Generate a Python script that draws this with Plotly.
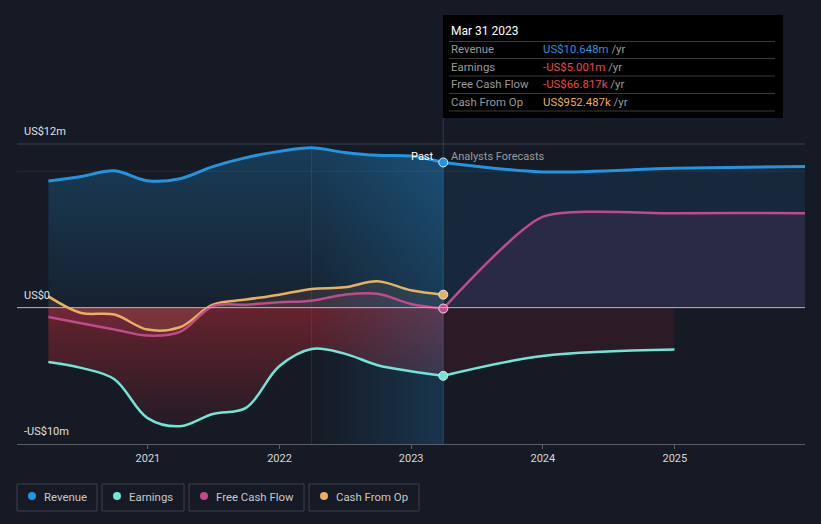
import plotly.graph_objects as go

# ---------------- data (US$ millions) ----------------
past_dates = ["2020-03-31", "2020-06-30", "2020-09-30", "2020-12-31", "2021-03-31",
              "2021-06-30", "2021-09-30", "2021-12-31", "2022-03-31", "2022-06-30",
              "2022-09-30", "2022-12-31", "2023-03-31"]
revenue_past = [9.29, 9.62, 10.04, 9.30, 9.45, 10.34, 11.0, 11.46, 11.72, 11.38, 11.17, 11.12, 10.648]
earnings_past = [-3.98, -4.42, -5.25, -8.1, -8.7, -7.8, -7.35, -4.3, -3.03, -3.37, -4.22, -4.66, -5.001]
fcf_past = [-0.68, -1.15, -1.6, -2.05, -1.78, 0.1, 0.22, 0.39, 0.51, 0.95, 1.02, 0.27, -0.0668]
cfo_past = [0.83, -0.39, -0.51, -1.61, -1.44, 0.22, 0.59, 0.95, 1.37, 1.49, 1.93, 1.27, 0.952]

fc_dates = ["2023-03-31", "2023-12-31", "2024-12-31", "2025-12-31"]
revenue_fc = [10.648, 9.95, 10.22, 10.36]
fcf_fc = [-0.0668, 6.65, 6.92, 6.93]
earn_fc_dates = ["2023-03-31", "2023-12-31", "2024-12-31"]
earnings_fc = [-5.001, -3.55, -3.07]

year_ticks = ["2021-01-01", "2022-01-01", "2023-01-01", "2024-01-01", "2025-01-01"]
year_labels = ["2021", "2022", "2023", "2024", "2025"]
y_labels = ["US$12m", "US$0", "-US$10m"]
y_label_vals = [12, 0, -10]

band_start = "2022-03-31"
now_date = "2023-03-31"

# ---------------- styling ----------------
BG = "#151a24"
C_REV = "#2394df"
C_EARN = "#6ee7d6"
C_FCF = "#c2498a"
C_CFO = "#e8b060"
FONT = "Roboto"

W, H = 821, 524
L, R, T, B = 17, 16, 20, 80
PW, PH = W - L - R, H - T - B
Y_MIN = -10
Y_MAX = Y_MIN + PH / 13.636


def px(x):
    return (x - L) / PW


def py(y):
    return (H - B - y) / PH


fig = go.Figure()

# past revenue area
fig.add_trace(go.Scatter(
    x=past_dates, y=revenue_past, mode="lines", line=dict(width=0, shape="spline"),
    fill="tozeroy",
    fillgradient=dict(type="vertical",
                      colorscale=[[0, "rgba(35,148,223,0.06)"], [1, "rgba(35,148,223,0.28)"]]),
    hoverinfo="skip"))

# past earnings area (red)
fig.add_trace(go.Scatter(
    x=past_dates, y=earnings_past, mode="lines", line=dict(width=0, shape="spline"),
    fill="tozeroy",
    fillgradient=dict(type="vertical",
                      colorscale=[[0, "rgba(200,45,55,0.08)"], [1, "rgba(200,45,55,0.45)"]]),
    hoverinfo="skip"))

# past FCF / CFO light areas
fig.add_trace(go.Scatter(x=past_dates, y=fcf_past, mode="lines",
                         line=dict(width=0, shape="spline"), fill="tozeroy",
                         fillcolor="rgba(194,73,138,0.12)", hoverinfo="skip"))
fig.add_trace(go.Scatter(x=past_dates, y=cfo_past, mode="lines",
                         line=dict(width=0, shape="spline"), fill="tozeroy",
                         fillcolor="rgba(232,176,96,0.10)", hoverinfo="skip"))

# last-year highlight band (horizontal gradient)
i0 = past_dates.index(band_start)
band_grad = dict(type="horizontal",
                 colorscale=[[0, "rgba(35,148,223,0.0)"], [1, "rgba(35,148,223,0.22)"]])
fig.add_trace(go.Scatter(x=past_dates[i0:], y=revenue_past[i0:], mode="lines",
                         line=dict(width=0, shape="spline"), fill="tozeroy",
                         fillgradient=band_grad, hoverinfo="skip"))
fig.add_trace(go.Scatter(x=[band_start, now_date, now_date, band_start],
                         y=[0, 0, Y_MIN, Y_MIN], mode="lines", line=dict(width=0),
                         fill="toself", fillgradient=band_grad, hoverinfo="skip"))

# forecast areas
fig.add_trace(go.Scatter(x=fc_dates, y=revenue_fc, mode="lines",
                         line=dict(width=0, shape="spline", smoothing=0.8), fill="tozeroy",
                         fillcolor="rgba(35,148,223,0.12)", hoverinfo="skip"))
fig.add_trace(go.Scatter(x=fc_dates, y=fcf_fc, mode="lines",
                         line=dict(width=0, shape="spline", smoothing=0.6), fill="tozeroy",
                         fillcolor="rgba(194,73,138,0.11)", hoverinfo="skip"))
fig.add_trace(go.Scatter(x=earn_fc_dates, y=earnings_fc, mode="lines",
                         line=dict(width=0, shape="spline"), fill="tozeroy",
                         fillcolor="rgba(200,45,55,0.12)", hoverinfo="skip"))

# lines
for xs, ys, c, w, sm in [
    (past_dates, cfo_past, C_CFO, 2.5, 1),
    (past_dates, fcf_past, C_FCF, 2.5, 1),
    (past_dates, earnings_past, C_EARN, 2.5, 1),
    (past_dates, revenue_past, C_REV, 3, 1),
    (fc_dates, fcf_fc, C_FCF, 2.5, 0.6),
    (earn_fc_dates, earnings_fc, C_EARN, 2.5, 1),
    (fc_dates, revenue_fc, C_REV, 3, 0.8),
]:
    fig.add_trace(go.Scatter(x=xs, y=ys, mode="lines",
                             line=dict(color=c, width=w, shape="spline", smoothing=sm),
                             hoverinfo="skip"))

# markers at "now"
fig.add_trace(go.Scatter(
    x=[now_date] * 4,
    y=[revenue_past[-1], earnings_past[-1], fcf_past[-1], cfo_past[-1]],
    mode="markers",
    marker=dict(size=9, color=[C_REV, C_EARN, C_FCF, C_CFO],
                line=dict(color="#e6e6e6", width=1)),
    hoverinfo="skip"))

shapes = []
# grid lines
shapes.append(dict(type="line", xref="paper", yref="y", x0=0, x1=1, y0=12, y1=12,
                   line=dict(color="#3c424e", width=1), layer="below"))
shapes.append(dict(type="line", xref="paper", yref="y", x0=0, x1=1, y0=10, y1=10,
                   line=dict(color="#232a36", width=1), layer="below"))
shapes.append(dict(type="line", xref="paper", yref="y", x0=0, x1=1, y0=0, y1=0,
                   line=dict(color="#b8b8b8", width=1), layer="above"))
# vertical lines
shapes.append(dict(type="line", xref="x", yref="y", x0=band_start, x1=band_start,
                   y0=Y_MIN, y1=12, line=dict(color="#263242", width=1), layer="below"))
shapes.append(dict(type="line", xref="x", yref="paper", x0=now_date, x1=now_date,
                   y0=0, y1=py(118), line=dict(color="#22405c", width=1), layer="below"))

# tooltip box
shapes.append(dict(type="rect", xref="paper", yref="paper", x0=px(443), x1=px(783),
                   y0=py(118), y1=py(15), fillcolor="#000000", line=dict(width=0)))
for ys in [41.5, 58.5, 76, 93.5, 111]:
    shapes.append(dict(type="line", xref="paper", yref="paper", x0=px(449), x1=px(775),
                       y0=py(ys), y1=py(ys), line=dict(color="#3a3a3a", width=1)))

annotations = []
annotations.append(dict(xref="paper", yref="paper", x=px(449), y=py(31), text="Mar 31 2023",
                        showarrow=False, xanchor="left", yanchor="middle",
                        font=dict(family=FONT, size=12, color="#ffffff")))
tip_rows = [
    ("Revenue", "US$10.648m", "#2394df", 49.5),
    ("Earnings", "-US$5.001m", "#e84a4a", 66.5),
    ("Free Cash Flow", "-US$66.817k", "#e84a4a", 84),
    ("Cash From Op", "US$952.487k", "#e8b04e", 101.5),
]
for lab, val, col, yy in tip_rows:
    annotations.append(dict(xref="paper", yref="paper", x=px(449), y=py(yy), text=lab,
                            showarrow=False, xanchor="left", yanchor="middle",
                            font=dict(family=FONT, size=11.4, color="#9a9a9a")))
    annotations.append(dict(xref="paper", yref="paper", x=px(541), y=py(yy),
                            text=f'<span style="color:{col}">{val}</span> /yr',
                            showarrow=False, xanchor="left", yanchor="middle",
                            font=dict(family=FONT, size=11.4, color="#9a9a9a")))

# y labels
for lab, v in zip(y_labels, y_label_vals):
    annotations.append(dict(xref="paper", yref="y", x=px(22), y=v, text=lab,
                            showarrow=False, xanchor="left", yanchor="bottom", yshift=4,
                            font=dict(family=FONT, size=11, color="#e0e0e0")))

# Past / Analysts Forecasts
annotations.append(dict(xref="x", yref="paper", x=now_date, y=py(156), text="Past",
                        showarrow=False, xanchor="right", yanchor="middle", xshift=-7,
                        font=dict(family=FONT, size=11, color="#ffffff")))
annotations.append(dict(xref="x", yref="paper", x=now_date, y=py(156), text="Analysts Forecasts",
                        showarrow=False, xanchor="left", yanchor="middle", xshift=6,
                        font=dict(family=FONT, size=11, color="#9a9a9a")))

# legend boxes
legend_items = [("Revenue", C_REV, 17, 97), ("Earnings", C_EARN, 102, 184),
                ("Free Cash Flow", C_FCF, 189, 304), ("Cash From Op", C_CFO, 309, 419)]
for name, col, x0, x1 in legend_items:
    shapes.append(dict(type="rect", xref="paper", yref="paper", x0=px(x0), x1=px(x1),
                       y0=py(511), y1=py(484), line=dict(color="#3c414c", width=1),
                       fillcolor="rgba(0,0,0,0)"))
    shapes.append(dict(type="circle", xref="paper", yref="paper", x0=px(x0 + 11), x1=px(x0 + 19),
                       y0=py(500), y1=py(492), line=dict(width=0), fillcolor=col))
    annotations.append(dict(xref="paper", yref="paper", x=px(x0 + 25), y=py(496.5), text=name,
                            showarrow=False, xanchor="left", yanchor="middle",
                            font=dict(family=FONT, size=11.4, color="#c8c8c8")))

fig.update_layout(
    width=W, height=H,
    margin=dict(l=L, r=R, t=T, b=B, autoexpand=False),
    paper_bgcolor=BG, plot_bgcolor=BG,
    showlegend=False,
    font=dict(family=FONT, color="#d0d0d0"),
    shapes=shapes, annotations=annotations,
    xaxis=dict(type="date", range=["2020-01-04", "2025-12-28"], showgrid=False,
               zeroline=False, tickmode="array", tickvals=year_ticks, ticktext=year_labels,
               ticks="outside", ticklen=4, tickcolor="#5a5f68", showline=True,
               linecolor="#5a5f68", linewidth=1, tickfont=dict(size=11, color="#d8d8d8"),
               automargin=False),
    yaxis=dict(range=[Y_MIN, Y_MAX], showgrid=False, zeroline=False, showticklabels=False,
               automargin=False),
)

fig.write_html("out.html", config={"displayModeBar": False},
               post_script="document.body.style.margin='0';document.body.style.padding='0';"
                           "document.body.style.background='" + BG + "';")
